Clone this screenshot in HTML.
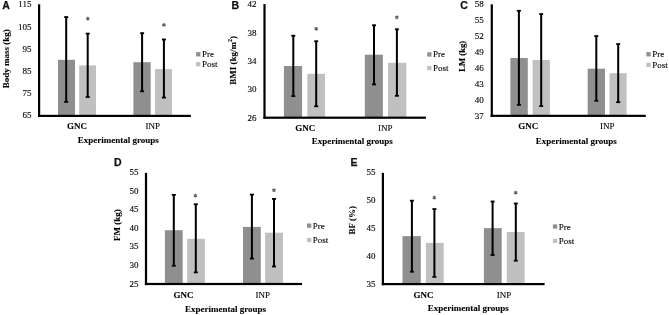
<!DOCTYPE html>
<html><head><meta charset="utf-8"><style>
html,body{margin:0;padding:0;background:#fff;width:669px;height:315px;overflow:hidden}
svg{display:block;will-change:transform;filter:blur(0.3px)}
.t{font-family:"Liberation Serif",serif;font-size:9px;fill:#000;stroke:#000;stroke-width:0.12px}
.b{font-family:"Liberation Serif",serif;font-size:9px;font-weight:bold;fill:#000;stroke:#000;stroke-width:0.1px}
.ast{font-family:"Liberation Serif",serif;font-size:9px;fill:#000}
.L{font-family:"Liberation Sans",sans-serif;font-size:10.5px;font-weight:bold;fill:#111;stroke:#111;stroke-width:0.25px}
</style></head><body>
<svg width="669" height="315" viewBox="0 0 669 315">
<rect x="58" y="59.8" width="17.00" height="56.10" fill="#8f8f8f"/>
<rect x="79.2" y="65.4" width="16.80" height="50.50" fill="#c0c0c0"/>
<rect x="133.4" y="62.2" width="17.30" height="53.70" fill="#8f8f8f"/>
<rect x="155" y="69.1" width="17.00" height="46.80" fill="#c0c0c0"/>
<rect x="65.20" y="16.50" width="2.0" height="85.50" fill="#000"/>
<rect x="64.20" y="16.20" width="4" height="1.8" fill="#000"/>
<rect x="64.20" y="101.00" width="4" height="1.8" fill="#000"/>
<rect x="86.70" y="33.00" width="2.0" height="64.10" fill="#000"/>
<rect x="85.70" y="32.70" width="4" height="1.8" fill="#000"/>
<rect x="85.70" y="96.10" width="4" height="1.8" fill="#000"/>
<rect x="141.10" y="32.60" width="2.0" height="58.80" fill="#000"/>
<rect x="140.10" y="32.30" width="4" height="1.8" fill="#000"/>
<rect x="140.10" y="90.40" width="4" height="1.8" fill="#000"/>
<rect x="162.90" y="38.90" width="2.0" height="58.80" fill="#000"/>
<rect x="161.90" y="38.60" width="4" height="1.8" fill="#000"/>
<rect x="161.90" y="96.70" width="4" height="1.8" fill="#000"/>
<rect x="38.00" y="4.3" width="2.2" height="112.70" fill="#000"/>
<rect x="38.00" y="114.80" width="152.90" height="2.2" fill="#000"/>
<text x="31.5" y="7.40" text-anchor="end" class="t">115</text>
<text x="31.5" y="29.60" text-anchor="end" class="t">105</text>
<text x="31.5" y="51.80" text-anchor="end" class="t">95</text>
<text x="31.5" y="74.00" text-anchor="end" class="t">85</text>
<text x="31.5" y="96.20" text-anchor="end" class="t">75</text>
<text x="31.5" y="118.40" text-anchor="end" class="t">65</text>
<path d="M87.80 16.70V20.50M86.15 17.65L89.45 19.55M86.15 19.55L89.45 17.65" stroke="#606060" stroke-width="1.1" fill="none"/>
<path d="M163.90 23.00V26.80M162.25 23.95L165.55 25.85M162.25 25.85L165.55 23.95" stroke="#606060" stroke-width="1.1" fill="none"/>
<text x="77" y="129.00" text-anchor="middle" class="b">GNC</text>
<text x="152.8" y="128.90" text-anchor="middle" class="t">INP</text>
<text x="118.2" y="142.80" text-anchor="middle" class="b">Experimental groups</text>
<text transform="translate(9.2 58.7) rotate(-90) scale(1 1)" text-anchor="middle" class="b">Body mass (kg)</text>
<rect x="196.1" y="52.10" width="4.3" height="4.3" fill="#8f8f8f"/>
<rect x="196.1" y="62.00" width="4.3" height="4.3" fill="#c0c0c0"/>
<text x="201.90" y="57.20" class="t">Pre</text>
<text x="201.90" y="67.10" class="t">Post</text>
<text x="2.3" y="9" class="L">A</text>
<rect x="283.9" y="66" width="18.20" height="51.70" fill="#8f8f8f"/>
<rect x="307.3" y="73.8" width="17.70" height="43.90" fill="#c0c0c0"/>
<rect x="364.8" y="54.7" width="18.10" height="63.00" fill="#8f8f8f"/>
<rect x="388" y="62.8" width="18.30" height="54.90" fill="#c0c0c0"/>
<rect x="292.30" y="35.10" width="2.0" height="61.10" fill="#000"/>
<rect x="291.30" y="34.80" width="4" height="1.8" fill="#000"/>
<rect x="291.30" y="95.20" width="4" height="1.8" fill="#000"/>
<rect x="315.20" y="40.70" width="2.0" height="65.70" fill="#000"/>
<rect x="314.20" y="40.40" width="4" height="1.8" fill="#000"/>
<rect x="314.20" y="105.40" width="4" height="1.8" fill="#000"/>
<rect x="373.00" y="24.70" width="2.0" height="59.80" fill="#000"/>
<rect x="372.00" y="24.40" width="4" height="1.8" fill="#000"/>
<rect x="372.00" y="83.50" width="4" height="1.8" fill="#000"/>
<rect x="395.90" y="28.70" width="2.0" height="67.20" fill="#000"/>
<rect x="394.90" y="28.40" width="4" height="1.8" fill="#000"/>
<rect x="394.90" y="94.90" width="4" height="1.8" fill="#000"/>
<rect x="263.40" y="4.1" width="2.2" height="114.70" fill="#000"/>
<rect x="263.40" y="116.60" width="162.50" height="2.2" fill="#000"/>
<text x="256.5" y="7.45" text-anchor="end" class="t">42</text>
<text x="256.5" y="35.73" text-anchor="end" class="t">38</text>
<text x="256.5" y="64.00" text-anchor="end" class="t">34</text>
<text x="256.5" y="92.27" text-anchor="end" class="t">30</text>
<text x="256.5" y="120.55" text-anchor="end" class="t">26</text>
<path d="M316.20 26.90V30.70M314.55 27.85L317.85 29.75M314.55 29.75L317.85 27.85" stroke="#606060" stroke-width="1.1" fill="none"/>
<path d="M396.90 15.40V19.20M395.25 16.35L398.55 18.25M395.25 18.25L398.55 16.35" stroke="#606060" stroke-width="1.1" fill="none"/>
<text x="305.2" y="131.00" text-anchor="middle" class="b">GNC</text>
<text x="385.3" y="131.00" text-anchor="middle" class="t">INP</text>
<text x="352.2" y="144.30" text-anchor="middle" class="b">Experimental groups</text>
<text transform="translate(235.7 60.3) rotate(-90) scale(1 1)" text-anchor="middle" class="b">BMI (kg/m<tspan font-size="6" dy="-3.4">2</tspan><tspan dy="3.4">)</tspan></text>
<rect x="427.2" y="52.30" width="4.3" height="4.3" fill="#8f8f8f"/>
<rect x="427.2" y="66.00" width="4.3" height="4.3" fill="#c0c0c0"/>
<text x="433.00" y="57.40" class="t">Pre</text>
<text x="433.00" y="71.10" class="t">Post</text>
<text x="231.4" y="9" class="L">B</text>
<rect x="510.4" y="58" width="17.40" height="57.85" fill="#8f8f8f"/>
<rect x="532.6" y="60" width="17.30" height="55.85" fill="#c0c0c0"/>
<rect x="587.7" y="68.7" width="17.30" height="47.15" fill="#8f8f8f"/>
<rect x="609.5" y="73.2" width="17.10" height="42.65" fill="#c0c0c0"/>
<rect x="517.90" y="10.20" width="2.0" height="94.80" fill="#000"/>
<rect x="516.90" y="9.90" width="4" height="1.8" fill="#000"/>
<rect x="516.90" y="104.00" width="4" height="1.8" fill="#000"/>
<rect x="540.20" y="13.50" width="2.0" height="92.70" fill="#000"/>
<rect x="539.20" y="13.20" width="4" height="1.8" fill="#000"/>
<rect x="539.20" y="105.20" width="4" height="1.8" fill="#000"/>
<rect x="595.30" y="35.50" width="2.0" height="65.40" fill="#000"/>
<rect x="594.30" y="35.20" width="4" height="1.8" fill="#000"/>
<rect x="594.30" y="99.90" width="4" height="1.8" fill="#000"/>
<rect x="617.20" y="43.50" width="2.0" height="58.80" fill="#000"/>
<rect x="616.20" y="43.20" width="4" height="1.8" fill="#000"/>
<rect x="616.20" y="101.30" width="4" height="1.8" fill="#000"/>
<rect x="490.70" y="4.3" width="2.2" height="112.65" fill="#000"/>
<rect x="490.70" y="114.75" width="155.10" height="2.2" fill="#000"/>
<text x="483.7" y="7.45" text-anchor="end" class="t">58</text>
<text x="483.7" y="23.34" text-anchor="end" class="t">55</text>
<text x="483.7" y="39.24" text-anchor="end" class="t">52</text>
<text x="483.7" y="55.13" text-anchor="end" class="t">49</text>
<text x="483.7" y="71.02" text-anchor="end" class="t">46</text>
<text x="483.7" y="86.91" text-anchor="end" class="t">43</text>
<text x="483.7" y="102.81" text-anchor="end" class="t">40</text>
<text x="483.7" y="118.70" text-anchor="end" class="t">37</text>
<text x="528.3" y="129.00" text-anchor="middle" class="b">GNC</text>
<text x="607.3" y="129.30" text-anchor="middle" class="t">INP</text>
<text x="576.2" y="144.30" text-anchor="middle" class="b">Experimental groups</text>
<text transform="translate(465.2 56.3) rotate(-90) scale(0.965 1)" text-anchor="middle" class="b">LM (kg)</text>
<rect x="646.4" y="52.10" width="4.3" height="4.3" fill="#8f8f8f"/>
<rect x="646.4" y="62.70" width="4.3" height="4.3" fill="#c0c0c0"/>
<text x="652.20" y="57.20" class="t">Pre</text>
<text x="652.20" y="67.80" class="t">Post</text>
<text x="460.3" y="9" class="L">C</text>
<rect x="164.9" y="230.2" width="17.80" height="53.80" fill="#8f8f8f"/>
<rect x="187.2" y="238.8" width="17.70" height="45.20" fill="#c0c0c0"/>
<rect x="243" y="226.9" width="17.80" height="57.10" fill="#8f8f8f"/>
<rect x="265.1" y="232.7" width="17.80" height="51.30" fill="#c0c0c0"/>
<rect x="172.80" y="194.30" width="2.0" height="71.60" fill="#000"/>
<rect x="171.80" y="194.00" width="4" height="1.8" fill="#000"/>
<rect x="171.80" y="264.90" width="4" height="1.8" fill="#000"/>
<rect x="194.80" y="203.70" width="2.0" height="68.80" fill="#000"/>
<rect x="193.80" y="203.40" width="4" height="1.8" fill="#000"/>
<rect x="193.80" y="271.50" width="4" height="1.8" fill="#000"/>
<rect x="250.90" y="194.00" width="2.0" height="64.70" fill="#000"/>
<rect x="249.90" y="193.70" width="4" height="1.8" fill="#000"/>
<rect x="249.90" y="257.70" width="4" height="1.8" fill="#000"/>
<rect x="273.00" y="198.30" width="2.0" height="68.30" fill="#000"/>
<rect x="272.00" y="198.00" width="4" height="1.8" fill="#000"/>
<rect x="272.00" y="265.60" width="4" height="1.8" fill="#000"/>
<rect x="144.90" y="172.9" width="2.2" height="112.20" fill="#000"/>
<rect x="144.90" y="282.90" width="157.10" height="2.2" fill="#000"/>
<text x="138.5" y="174.90" text-anchor="end" class="t">55</text>
<text x="138.5" y="193.50" text-anchor="end" class="t">50</text>
<text x="138.5" y="212.10" text-anchor="end" class="t">45</text>
<text x="138.5" y="230.70" text-anchor="end" class="t">40</text>
<text x="138.5" y="249.30" text-anchor="end" class="t">35</text>
<text x="138.5" y="267.90" text-anchor="end" class="t">30</text>
<text x="138.5" y="286.50" text-anchor="end" class="t">25</text>
<path d="M195.40 193.70V197.50M193.75 194.65L197.05 196.55M193.75 196.55L197.05 194.65" stroke="#606060" stroke-width="1.1" fill="none"/>
<path d="M274.00 188.30V192.10M272.35 189.25L275.65 191.15M272.35 191.15L275.65 189.25" stroke="#606060" stroke-width="1.1" fill="none"/>
<text x="183.6" y="297.50" text-anchor="middle" class="b">GNC</text>
<text x="262.7" y="297.50" text-anchor="middle" class="t">INP</text>
<text x="225.5" y="312.30" text-anchor="middle" class="b">Experimental groups</text>
<text transform="translate(119.7 225.2) rotate(-90) scale(1 1)" text-anchor="middle" class="b">FM (kg)</text>
<rect x="307.0" y="223.50" width="4.3" height="4.3" fill="#8f8f8f"/>
<rect x="307.0" y="237.90" width="4.3" height="4.3" fill="#c0c0c0"/>
<text x="312.80" y="228.60" class="t">Pre</text>
<text x="312.80" y="243.00" class="t">Post</text>
<text x="114" y="166" class="L">D</text>
<rect x="402.5" y="236.1" width="18.30" height="48.00" fill="#8f8f8f"/>
<rect x="425.9" y="242.9" width="17.80" height="41.20" fill="#c0c0c0"/>
<rect x="483.9" y="228.1" width="17.80" height="56.00" fill="#8f8f8f"/>
<rect x="506.8" y="232" width="17.80" height="52.10" fill="#c0c0c0"/>
<rect x="410.90" y="200.10" width="2.0" height="71.70" fill="#000"/>
<rect x="409.90" y="199.80" width="4" height="1.8" fill="#000"/>
<rect x="409.90" y="270.80" width="4" height="1.8" fill="#000"/>
<rect x="433.40" y="208.50" width="2.0" height="68.50" fill="#000"/>
<rect x="432.40" y="208.20" width="4" height="1.8" fill="#000"/>
<rect x="432.40" y="276.00" width="4" height="1.8" fill="#000"/>
<rect x="491.60" y="200.90" width="2.0" height="54.20" fill="#000"/>
<rect x="490.60" y="200.60" width="4" height="1.8" fill="#000"/>
<rect x="490.60" y="254.10" width="4" height="1.8" fill="#000"/>
<rect x="514.80" y="202.90" width="2.0" height="57.90" fill="#000"/>
<rect x="513.80" y="202.60" width="4" height="1.8" fill="#000"/>
<rect x="513.80" y="259.80" width="4" height="1.8" fill="#000"/>
<rect x="381.80" y="172.9" width="2.2" height="112.30" fill="#000"/>
<rect x="381.80" y="283.00" width="162.80" height="2.2" fill="#000"/>
<text x="375.5" y="174.90" text-anchor="end" class="t">55</text>
<text x="375.5" y="202.83" text-anchor="end" class="t">50</text>
<text x="375.5" y="230.75" text-anchor="end" class="t">45</text>
<text x="375.5" y="258.68" text-anchor="end" class="t">40</text>
<text x="375.5" y="286.60" text-anchor="end" class="t">35</text>
<path d="M434.30 195.70V199.50M432.65 196.65L435.95 198.55M432.65 198.55L435.95 196.65" stroke="#606060" stroke-width="1.1" fill="none"/>
<path d="M515.70 190.80V194.60M514.05 191.75L517.35 193.65M514.05 193.65L517.35 191.75" stroke="#606060" stroke-width="1.1" fill="none"/>
<text x="423.5" y="297.50" text-anchor="middle" class="b">GNC</text>
<text x="504" y="297.50" text-anchor="middle" class="t">INP</text>
<text x="468.2" y="311.40" text-anchor="middle" class="b">Experimental groups</text>
<text transform="translate(355.0 220.2) rotate(-90) scale(1 1)" text-anchor="middle" class="b">BF (%)</text>
<rect x="552.9" y="224.40" width="4.3" height="4.3" fill="#8f8f8f"/>
<rect x="552.9" y="238.70" width="4.3" height="4.3" fill="#c0c0c0"/>
<text x="558.70" y="229.50" class="t">Pre</text>
<text x="558.70" y="243.80" class="t">Post</text>
<text x="350.4" y="166" class="L">E</text>
</svg>
</body></html>
